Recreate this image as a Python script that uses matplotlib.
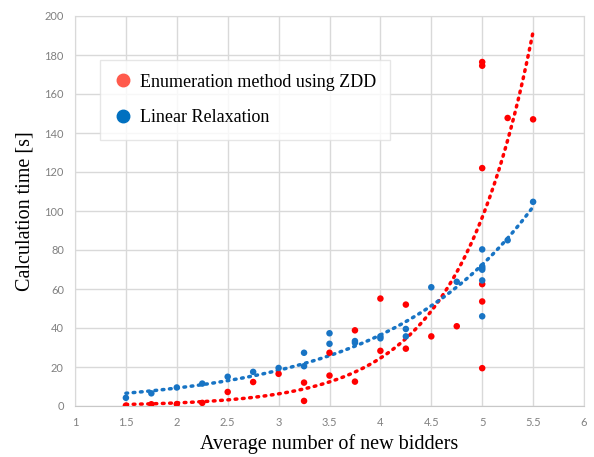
import numpy as np
import matplotlib
matplotlib.use("Agg")
import matplotlib.pyplot as plt
from matplotlib.lines import Line2D

# =============================================================================
# DATA
# =============================================================================
zdd_x = [1.5, 1.75, 2.0, 2.25, 2.5, 2.75, 3.0,
         3.25, 3.25, 3.5, 3.5, 3.75, 3.75, 4.0, 4.0, 4.25, 4.25,
         4.5, 4.75, 5.0, 5.0, 5.0, 5.0, 5.0, 5.0, 5.25, 5.5]
zdd_y = [0.2, 0.9, 1.0, 1.6, 7.2, 12.3, 16.5,
         12.0, 2.6, 27.3, 15.6, 38.8, 12.5, 55.1, 28.3, 52.0, 29.4,
         35.7, 40.9, 62.5, 53.6, 19.4, 176.4, 174.5, 122.0, 147.7, 147.0]

lr_x = [1.5, 1.75, 2.0, 2.25, 2.5, 2.75, 3.0,
        3.25, 3.25, 3.5, 3.5, 3.75, 3.75, 4.0, 4.0, 4.25, 4.25,
        4.5, 4.75, 5.0, 5.0, 5.0, 5.0, 5.0, 5.0, 5.25, 5.5]
lr_y = [4.2, 6.5, 9.5, 11.5, 15.0, 17.5, 19.5,
        27.3, 20.4, 37.3, 31.9, 33.3, 32.4, 35.7, 34.7, 39.5, 35.7,
        60.9, 63.7, 80.3, 71.6, 70.7, 69.9, 64.4, 46.0, 85.0, 104.7]

labels = ["Enumeration method using ZDD", "Linear Relaxation"]

x_ticks = [1, 1.5, 2, 2.5, 3, 3.5, 4, 4.5, 5, 5.5, 6]
x_tick_labels = ["1", "1.5", "2", "2.5", "3", "3.5", "4", "4.5", "5", "5.5", "6"]
y_ticks = [0, 20, 40, 60, 80, 100, 120, 140, 160, 180, 200]

red = "#FF0000"
blue = "#1874C4"
red_leg = "#FF5A4C"
blue_leg = "#0070C0"
grid_col = "#D9D9D9"


def exp_trend(x, y):
    """Excel-style exponential trendline: y = a*exp(b*x)."""
    b, lna = np.polyfit(np.asarray(x), np.log(np.asarray(y)), 1)
    xs = np.linspace(min(x), max(x), 200)
    return xs, np.exp(lna) * np.exp(b * xs)


# =============================================================================
# FIGURE
# =============================================================================
fig = plt.figure(figsize=(5.94, 4.57), dpi=100)
ax = fig.add_axes([75 / 594, 1 - 406 / 457, 509 / 594, 390 / 457])

serif = ["Liberation Serif", "DejaVu Serif"]
dots = (0, (0.5, 1.6))

for xv, yv, c in [(zdd_x, zdd_y, red), (lr_x, lr_y, blue)]:
    xs, ys = exp_trend(xv, yv)
    ax.plot(xs, ys, color=c, linestyle=dots, linewidth=2.5,
            dash_capstyle="round", zorder=2)
    ax.scatter(xv, yv, s=22, color=c, edgecolors="none", zorder=3)

ax.set_xlim(1, 6)
ax.set_ylim(0, 200)
ax.set_xticks(x_ticks)
ax.set_xticklabels(x_tick_labels)
ax.set_yticks(y_ticks)
ax.grid(True, color=grid_col, linewidth=1.0)
ax.set_axisbelow(True)
for s in ax.spines.values():
    s.set_color(grid_col)
ax.spines["bottom"].set_color("#C8C8C8")
ax.tick_params(length=0, labelsize=8, labelcolor="#808080", pad=8)
for t in ax.get_xticklabels() + ax.get_yticklabels():
    t.set_family(["Lato", "DejaVu Sans"])

ax.set_xlabel("Average number of new bidders", family=serif, fontsize=14.5,
              labelpad=4)
ax.set_ylabel("Calculation time [s]", family=serif, fontsize=14.5,
              labelpad=7)

handles = [Line2D([], [], linestyle="none", marker="o", markersize=9,
                  color=red_leg),
           Line2D([], [], linestyle="none", marker="o", markersize=9,
                  color=blue_leg)]
leg = ax.legend(handles, labels, loc="upper left",
                bbox_to_anchor=(25 / 509, 1 - 44 / 390),
                prop={"family": serif, "size": 13}, frameon=True,
                fancybox=False, edgecolor="#E0E0E0", borderpad=0.75,
                labelspacing=1.05, handletextpad=0.45, handlelength=1.0,
                borderaxespad=0)
leg.get_frame().set_linewidth(1.0)

fig.savefig("out.png", dpi=100)
